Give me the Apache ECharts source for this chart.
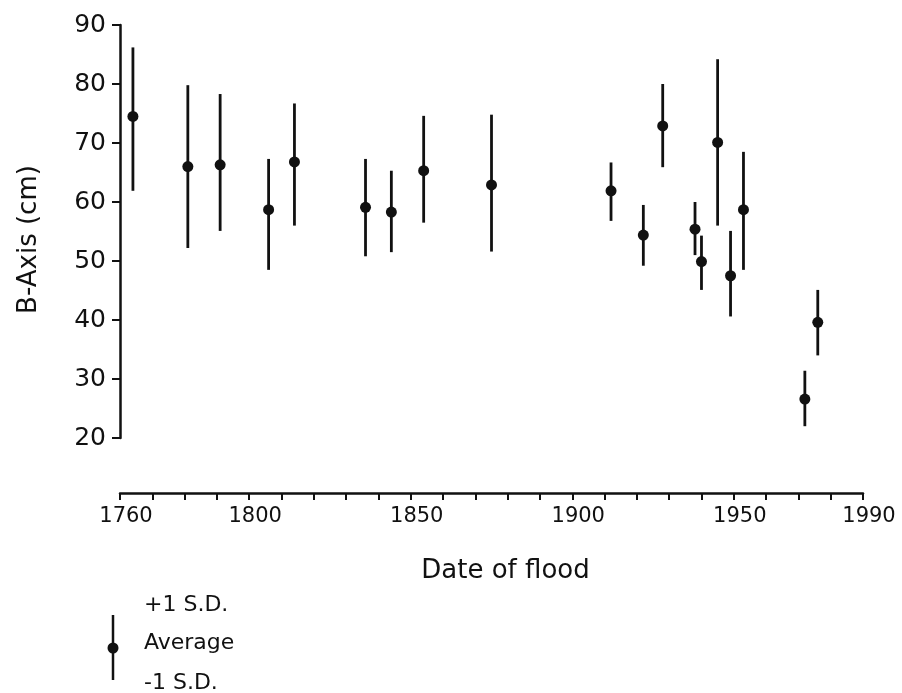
<!DOCTYPE html>
<html>
<head>
<meta charset="utf-8">
<script src="https://cdn.jsdelivr.net/npm/echarts@6/dist/echarts.min.js"></script>
<style>
html,body{margin:0;padding:0;background:#fff;}
#chart{width:902px;height:693px;}
</style>
</head>
<body>
<div id="chart"></div>
<script>
// Flood dates (year) and B-axis statistics (cm)
const years   = [1764, 1781, 1791, 1806, 1814, 1836, 1844, 1854, 1875, 1912, 1922, 1928, 1938, 1940, 1945, 1949, 1953, 1972, 1976];
const average = [74.5, 66.0, 66.3, 58.7, 66.8, 59.1, 58.3, 65.3, 62.9, 61.9, 54.4, 72.9, 55.4, 49.9, 70.1, 47.5, 58.7, 26.6, 39.6];
const plusSD  = [86.2, 79.8, 78.3, 67.3, 76.7, 67.3, 65.3, 74.6, 74.8, 66.7, 59.5, 80.0, 60.0, 54.3, 84.2, 55.1, 68.5, 31.4, 45.1];
const minusSD = [61.9, 52.2, 55.1, 48.5, 56.0, 50.8, 51.5, 56.5, 51.6, 56.8, 49.2, 65.9, 51.0, 45.1, 56.0, 40.6, 48.5, 22.0, 34.0];
const xTickLabels = [1760, 1800, 1850, 1900, 1950, 1990];
const yTickLabels = [20, 30, 40, 50, 60, 70, 80, 90];
const legendLabels = ['+1 S.D.', 'Average', '-1 S.D.'];

const FONT = 'DejaVu Sans';
const INK = '#111';

const data = years.map((y, i) => [y, average[i], minusSD[i], plusSD[i]]);

const chart = echarts.init(document.getElementById('chart'), null, {renderer: 'canvas'});
chart.setOption({
  backgroundColor: '#fff',
  animation: false,
  grid: {left: 120, right: 39, top: 25, bottom: 255, containLabel: false},
  xAxis: {
    type: 'value', min: 1760, max: 1990, interval: 10,
    offset: 55,
    name: 'Date of flood', nameLocation: 'middle', nameGap: 65,
    nameTextStyle: {fontFamily: FONT, fontSize: 26, color: INK, padding: [0, 0, 0, 28]},
    axisLine: {show: true, lineStyle: {color: INK, width: 2.5}},
    axisTick: {show: true, inside: false, length: 7, lineStyle: {color: INK, width: 2}},
    axisLabel: {
      fontFamily: FONT, fontSize: 21, color: INK, margin: 13, padding: [0, 0, 0, 12],
      showMinLabel: true, showMaxLabel: true,
      formatter: v => xTickLabels.indexOf(v) >= 0 ? String(v) : ''
    },
    splitLine: {show: false}
  },
  yAxis: {
    type: 'value', min: 20, max: 90, interval: 10,
    name: 'B-Axis (cm)', nameLocation: 'middle', nameGap: 78, nameRotate: 90,
    nameTextStyle: {fontFamily: FONT, fontSize: 26, color: INK, padding: [0, 16, 0, 0]},
    axisLine: {show: true, lineStyle: {color: INK, width: 2.5}},
    axisTick: {show: true, inside: false, length: 8, lineStyle: {color: INK, width: 2}},
    axisLabel: {
      fontFamily: FONT, fontSize: 25, color: INK, margin: 14,
      formatter: v => yTickLabels.indexOf(v) >= 0 ? String(v) : ''
    },
    splitLine: {show: false}
  },
  series: [{
    type: 'custom',
    data: data,
    encode: {x: 0, y: [1, 2, 3]},
    renderItem: function (params, api) {
      const x = api.value(0);
      const top = api.coord([x, api.value(3)]);
      const bot = api.coord([x, api.value(2)]);
      const mid = api.coord([x, api.value(1)]);
      return {
        type: 'group',
        children: [
          {type: 'line', shape: {x1: top[0], y1: top[1], x2: bot[0], y2: bot[1]},
           style: {stroke: INK, lineWidth: 2.8}},
          {type: 'circle', shape: {cx: mid[0], cy: mid[1], r: 5.5},
           style: {fill: INK}}
        ]
      };
    }
  }],
  graphic: [
    {type: 'line', shape: {x1: 113, y1: 615, x2: 113, y2: 680}, style: {stroke: INK, lineWidth: 2.5}},
    {type: 'circle', shape: {cx: 113, cy: 648, r: 5.5}, style: {fill: INK}},
    {type: 'text', x: 144, y: 605, style: {text: legendLabels[0], font: '22px "DejaVu Sans"', fill: INK, textVerticalAlign: 'middle'}},
    {type: 'text', x: 144, y: 643, style: {text: legendLabels[1], font: '22px "DejaVu Sans"', fill: INK, textVerticalAlign: 'middle'}},
    {type: 'text', x: 144, y: 683, style: {text: legendLabels[2], font: '22px "DejaVu Sans"', fill: INK, textVerticalAlign: 'middle'}}
  ]
});
</script>
</body>
</html>
